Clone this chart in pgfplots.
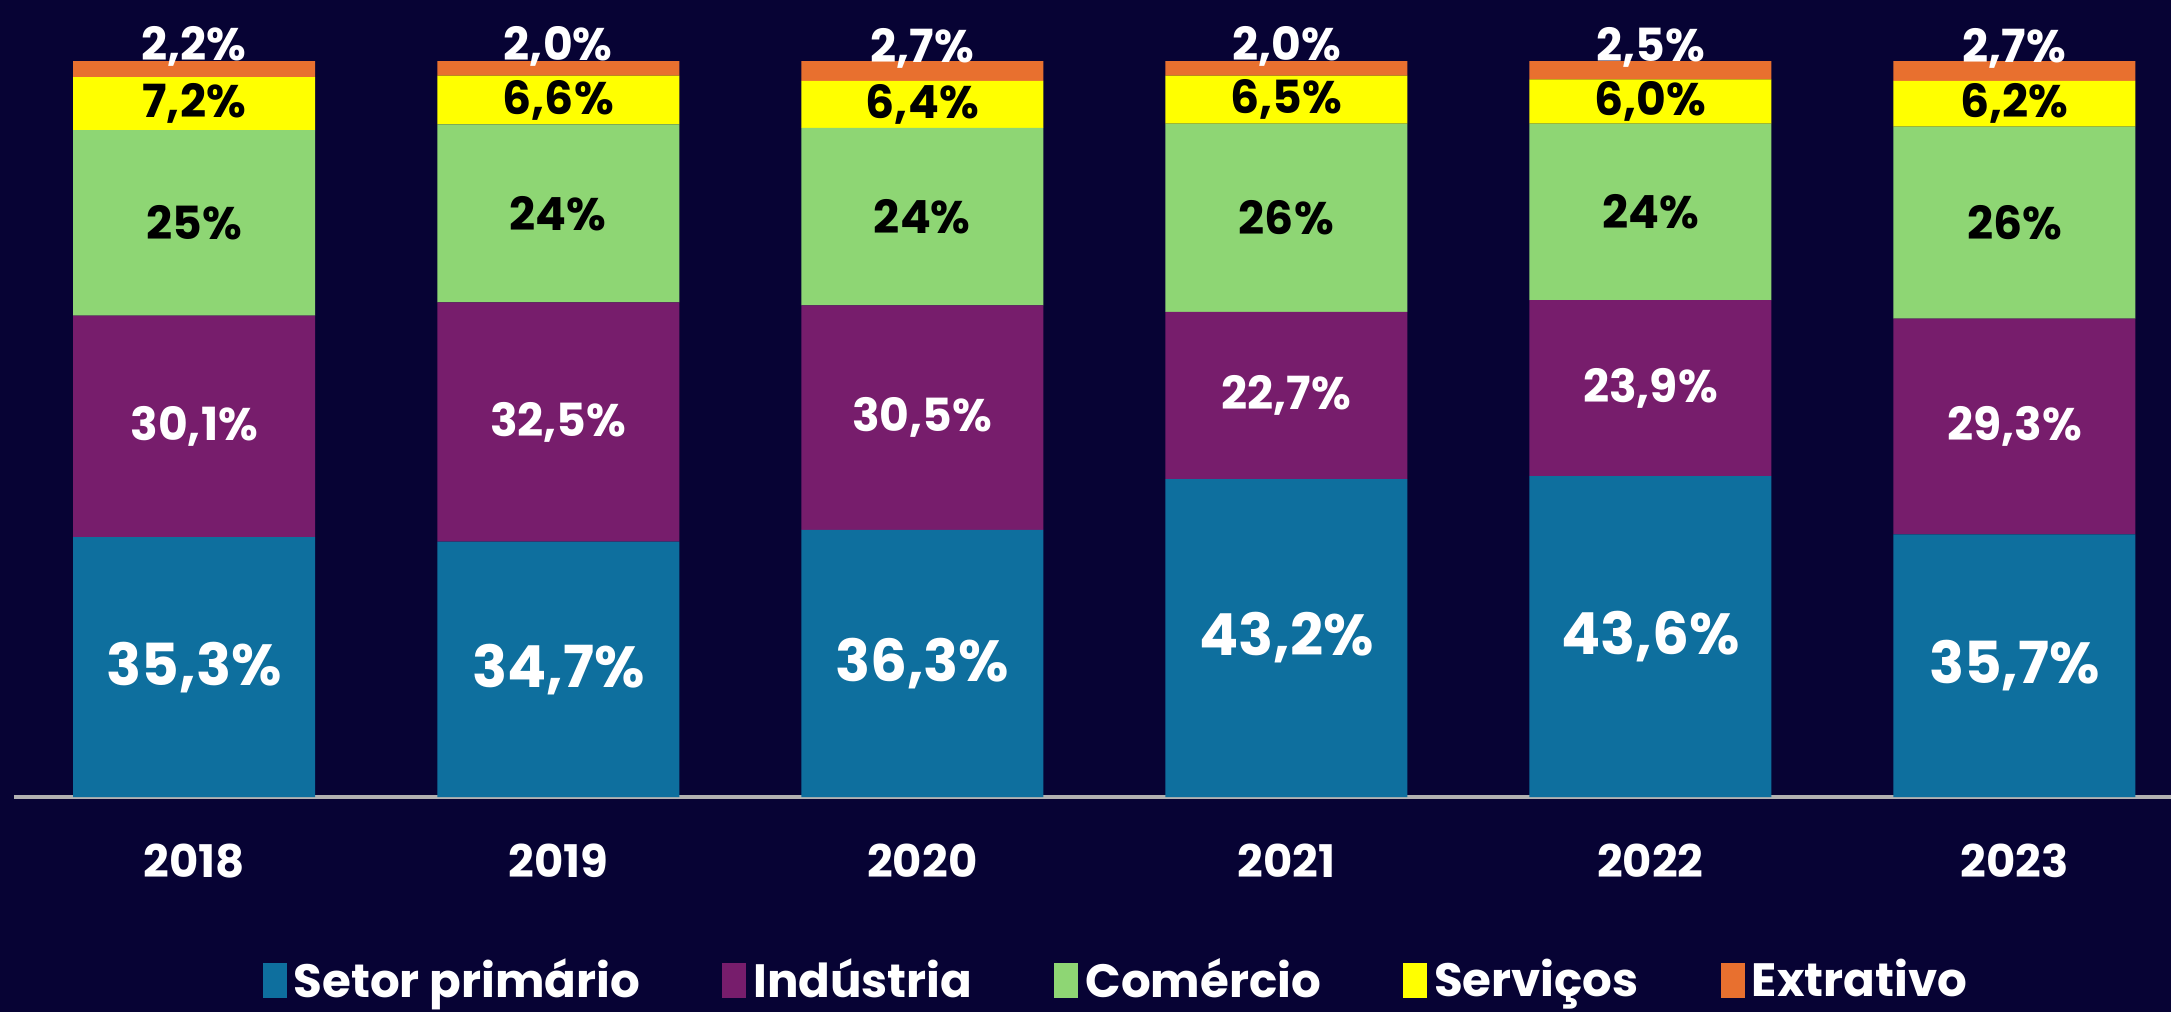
\documentclass[border=0pt]{standalone}
\usepackage{pgfplots}
\pgfplotsset{compat=1.18}
\usepackage{pgfplotstable}
\usepackage{fontspec}
\setmainfont{Poppins}

\definecolor{fundo}{HTML}{070334}
\definecolor{primario}{HTML}{0E6F9E}
\definecolor{industria}{HTML}{771D6C}
\definecolor{comercio}{HTML}{8ED674}
\definecolor{servicos}{HTML}{FFFF00}
\definecolor{extrativo}{HTML}{E8702F}

% participação por setor (%), comércio = restante até 100
\pgfplotstableread{
i ano  sp   ind  com  ser ext
0 2018 35.3 30.1 25.2 7.2 2.2
1 2019 34.7 32.5 24.2 6.6 2.0
2 2020 36.3 30.5 24.1 6.4 2.7
3 2021 43.2 22.7 25.6 6.5 2.0
4 2022 43.6 23.9 24.0 6.0 2.5
5 2023 35.7 29.3 26.1 6.2 2.7
}\dados

\pgfplotsset{
  rotulo/.style 2 args={
    point meta=\thisrow{#1},
    nodes near coords={\pgfmathprintnumber[fixed,fixed zerofill,precision=#2,use comma,assume math mode=true]{\pgfplotspointmeta}\%},
  },
  % rótulo no meio do segmento
  centro/.style 2 args={every node near coord/.style={anchor=center, inner sep=0pt,
    text=#1, font=\fontsize{#2}{#2}\bfseries}},
}

\begin{document}
\begin{tikzpicture}
\useasboundingbox (0,0) rectangle (217.1mm,101.2mm);
\fill[fundo] (0,0) rectangle (217.1mm,101.2mm);
\begin{axis}[
  at={(1.4mm,21.5mm)}, anchor=south west,
  scale only axis, width=215.7mm, height=73.6mm,
  xmin=-0.495, xmax=5.43, ymin=0, ymax=100,
  ybar stacked, bar width=24.2mm,
  hide y axis, axis x line*=bottom,
  axis line style={draw=gray!60!white, line width=1.2pt},
  xtick={0,...,5}, xticklabels={2018,2019,2020,2021,2022,2023},
  major tick length=0pt,
  xticklabel style={text=white, font=\fontsize{12.8}{12.8}\bfseries, anchor=center, yshift=-6.4mm},
  legend style={at={(0.512,-0.249)}, anchor=center, draw=none, fill=none,
    text=white, font=\fontsize{13.3}{13.3}\bfseries, legend columns=-1,
    /tikz/every even column/.append style={column sep=7.5mm}},
  legend image code/.code={\fill[#1] (0mm,-1.75mm) rectangle (2.4mm,1.75mm);},
  clip=false,
]
\addplot[fill=primario, draw=none, rotulo={sp}{1}, centro={white}{16.5}]
  table[x=i, y=sp] {\dados};
\addplot[fill=industria, draw=none, rotulo={ind}{1}, centro={white}{13}]
  table[x=i, y=ind] {\dados};
\addplot[fill=comercio, draw=none, rotulo={com}{0}, centro={black}{13}]
  table[x=i, y=com] {\dados};
\addplot[fill=servicos, draw=none, rotulo={ser}{1}, centro={black}{13}]
  table[x=i, y=ser] {\dados};
\addplot[fill=extrativo, draw=none, rotulo={ext}{1},
  every node near coord/.style={text=white, anchor=south, inner sep=0.5pt, font=\fontsize{13}{13}\bfseries}]
  table[x=i, y=ext] {\dados};
\legend{Setor primário, Indústria, Comércio, Serviços, Extrativo}
\end{axis}
\end{tikzpicture}
\end{document}
